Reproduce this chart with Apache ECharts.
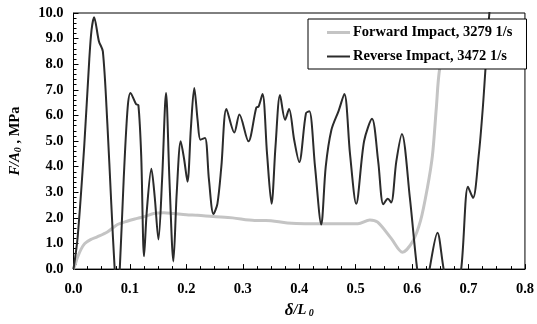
<!DOCTYPE html>
<html>
<head>
<meta charset="utf-8">
<script src="https://cdn.jsdelivr.net/npm/echarts@6/dist/echarts.min.js"></script>
<style>
  html, body { margin: 0; padding: 0; background: #fff; }
  #chart { width: 537px; height: 324px; }
</style>
</head>
<body>
<div id="chart"></div>
<script>
// 曲线数据 (delta/L0, F/A0 MPa)
const seriesNames = ['Forward Impact, 3279 1/s', 'Reverse Impact, 3472 1/s']
const forwardData = [
  [0, 0], [0.0025, 0.15], [0.007, 0.45], [0.013, 0.76], [0.02, 1.0], [0.031, 1.16],
  [0.042, 1.26], [0.06, 1.45], [0.078, 1.74], [0.095, 1.87], [0.113, 1.98], [0.13, 2.08],
  [0.142, 2.17], [0.16, 2.2], [0.177, 2.17], [0.2, 2.12], [0.22, 2.1], [0.247, 2.05],
  [0.282, 2.0], [0.321, 1.9], [0.341, 1.9], [0.379, 1.8], [0.41, 1.77], [0.434, 1.77],
  [0.504, 1.77], [0.525, 1.92], [0.539, 1.83], [0.563, 1.2], [0.583, 0.66], [0.601, 1.08],
  [0.615, 1.89], [0.627, 3.16], [0.636, 4.42], [0.643, 6.31], [0.649, 7.83], [0.656, 8.0],
  [0.67, 8.05], [0.8, 8.1],
]
const reverseData = [
  [0, 0], [0.0074, 1.26], [0.019, 4.8], [0.028, 8.2], [0.032, 9.34], [0.0365, 9.83],
  [0.045, 8.9], [0.052, 8.5], [0.06, 5.68], [0.067, 2.53], [0.073, 0], [0.0775, -1.2],
  [0.082, 0], [0.089, 3.54], [0.096, 6.31], [0.101, 6.88], [0.111, 6.44], [0.115, 6.4],
  [0.12, 4.42], [0.125, 0.5], [0.13, 2.3], [0.138, 3.92], [0.144, 2.8], [0.1505, 1.16],
  [0.157, 3.5], [0.164, 6.88], [0.17, 3.5], [0.177, 0.3], [0.183, 3.0], [0.19, 4.99],
  [0.196, 4.3], [0.202, 3.41], [0.208, 5.5], [0.214, 7.07], [0.22, 5.8], [0.225, 5.05],
  [0.233, 5.12], [0.24, 3.5], [0.248, 2.15], [0.255, 2.55], [0.262, 4.0], [0.271, 6.25],
  [0.285, 5.33], [0.294, 6.04], [0.31, 4.99], [0.324, 6.31], [0.328, 6.35], [0.335, 6.84],
  [0.343, 4.5], [0.351, 2.55], [0.358, 4.8], [0.366, 6.8], [0.375, 5.83], [0.382, 6.25],
  [0.391, 5.05], [0.4, 4.18], [0.412, 6.09], [0.418, 6.16], [0.428, 4.0], [0.439, 1.74],
  [0.447, 4.0], [0.457, 5.43], [0.47, 6.19], [0.48, 6.84], [0.49, 4.5], [0.501, 2.55],
  [0.515, 5.0], [0.529, 5.87], [0.54, 4.2], [0.549, 2.53], [0.557, 2.75], [0.563, 2.6],
  [0.572, 4.2], [0.582, 5.28], [0.596, 2.8], [0.609, 0], [0.62, -1.5], [0.631, 0],
  [0.645, 1.42], [0.656, 0], [0.672, -1.5], [0.687, 0], [0.699, 3.22], [0.708, 2.78],
  [0.718, 4.42], [0.7254, 6.31], [0.737, 10], [0.745, 11.5],
]
const xTickLabels = ['0.0', '0.1', '0.2', '0.3', '0.4', '0.5', '0.6', '0.7', '0.8']
const yTickLabels = ['0.0', '1.0', '2.0', '3.0', '4.0', '5.0', '6.0', '7.0', '8.0', '9.0', '10.0']

const font = 'Liberation Serif, Times New Roman, serif'
const chartDom = echarts.init(document.getElementById('chart'))

const option = {
  animation: false,
  grid: {
    left: 72,
    top: 13,
    right: 9,
    bottom: 47,
    show: true,
    borderColor: '#000',
    borderWidth: 1,
  },
  legend: {
    left: 308,
    top: 19,
    orient: 'vertical',
    padding: [6, 14, 5, 19],
    itemGap: 9,
    itemWidth: 23,
    itemHeight: 14,
    backgroundColor: '#fff',
    borderColor: '#000',
    borderWidth: 1,
    borderRadius: 0,
    textStyle: { fontFamily: font, fontWeight: 'bold', fontSize: 14.5, color: '#000', padding: [0, 0, 0, -2] },
    // 图例只画一段直线
    data: [
      { name: seriesNames[0], icon: 'path://M0,0H23V3H0Z' },
      { name: seriesNames[1], icon: 'path://M0,0H23V2H0Z' },
    ],
  },
  xAxis: {
    type: 'value',
    min: 0,
    max: 0.8,
    interval: 0.1,
    name: '{d|δ}{l|/L}{s| 0}',
    nameLocation: 'middle',
    nameGap: 28,
    nameTextStyle: {
      rich: {
        d: { fontFamily: font, fontWeight: 'bold', fontStyle: 'italic', fontSize: 17, color: '#000' },
        l: { fontFamily: font, fontWeight: 'bold', fontStyle: 'italic', fontSize: 14.5, color: '#000' },
        s: { fontFamily: font, fontWeight: 'bold', fontStyle: 'italic', fontSize: 10, color: '#000', padding: [6, 0, 0, 0] },
      },
    },
    axisLine: { lineStyle: { color: '#000', width: 1 } },
    axisTick: { inside: true, length: 5, lineStyle: { color: '#000' } },
    minorTick: { show: true, splitNumber: 4, length: 3, lineStyle: { color: '#000' } },
    splitLine: { show: false },
    axisLabel: {
      margin: 13,
      fontFamily: font,
      fontWeight: 'bold',
      fontSize: 14.5,
      color: '#000',
      formatter: (v) => xTickLabels[Math.round(v * 10)],
    },
  },
  yAxis: {
    type: 'value',
    min: 0,
    max: 10,
    interval: 1,
    name: '{i|F/A}{s|0}{b| , MPa}',
    nameLocation: 'middle',
    nameRotate: 90,
    nameGap: 50,
    nameTextStyle: {
      rich: {
        i: { fontFamily: font, fontWeight: 'bold', fontStyle: 'italic', fontSize: 14.5, color: '#000' },
        s: { fontFamily: font, fontWeight: 'bold', fontStyle: 'italic', fontSize: 10, color: '#000', padding: [6, 0, 0, 0] },
        b: { fontFamily: font, fontWeight: 'bold', fontSize: 14.5, color: '#000' },
      },
    },
    axisLine: { show: true, lineStyle: { color: '#000', width: 1 } },
    axisTick: { show: true, inside: true, length: 5, lineStyle: { color: '#000' } },
    minorTick: { show: true, splitNumber: 5, length: 3, lineStyle: { color: '#000' } },
    splitLine: { show: false },
    axisLabel: {
      margin: 10,
      fontFamily: font,
      fontWeight: 'bold',
      fontSize: 14.5,
      color: '#000',
      formatter: (v) => yTickLabels[Math.round(v)],
    },
  },
  series: [
    {
      name: seriesNames[0],
      type: 'line',
      data: forwardData,
      symbol: 'none',
      smooth: 0.3,
      lineStyle: { color: '#c4c4c4', width: 3 },
      itemStyle: { color: '#c4c4c4' },
      z: 2,
    },
    {
      name: seriesNames[1],
      type: 'line',
      data: reverseData,
      symbol: 'none',
      smooth: 0.3,
      lineStyle: { color: '#2b2b2b', width: 2 },
      itemStyle: { color: '#2b2b2b' },
      z: 3,
    },
  ],
}

chartDom.setOption(option)
</script>
</body>
</html>
